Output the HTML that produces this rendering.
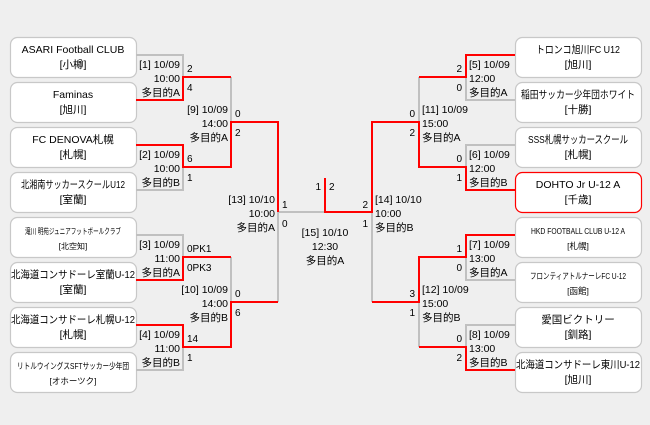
<!DOCTYPE html>
<html><head><meta charset="utf-8"><style>
html,body{margin:0;padding:0;background:#efefef;}
svg{display:block;}
text{font-family:"Liberation Sans","Noto Sans CJK JP",sans-serif;fill:#000;}
</style></head><body>
<svg width="650" height="425" viewBox="0 0 650 425" xmlns="http://www.w3.org/2000/svg">
<rect width="650" height="425" fill="#efefef"/>
<g fill="#fff" stroke="#c8c8c8" stroke-width="1.2">
<rect x="10.5" y="37.5" width="126" height="40" rx="7"/>
<rect x="10.5" y="82.5" width="126" height="40" rx="7"/>
<rect x="10.5" y="127.5" width="126" height="40" rx="7"/>
<rect x="10.5" y="172.5" width="126" height="40" rx="7"/>
<rect x="10.5" y="217.5" width="126" height="40" rx="7"/>
<rect x="10.5" y="262.5" width="126" height="40" rx="7"/>
<rect x="10.5" y="307.5" width="126" height="40" rx="7"/>
<rect x="10.5" y="352.5" width="126" height="40" rx="7"/>
<rect x="515.5" y="37.5" width="126" height="40" rx="7"/>
<rect x="515.5" y="82.5" width="126" height="40" rx="7"/>
<rect x="515.5" y="127.5" width="126" height="40" rx="7"/>
<rect x="515.5" y="172.5" width="126" height="40" rx="7" stroke="#ff0000"/>
<rect x="515.5" y="217.5" width="126" height="40" rx="7"/>
<rect x="515.5" y="262.5" width="126" height="40" rx="7"/>
<rect x="515.5" y="307.5" width="126" height="40" rx="7"/>
<rect x="515.5" y="352.5" width="126" height="40" rx="7"/>
</g>
<g font-size="10.5" text-anchor="middle">
<text x="73" y="53">ASARI Football CLUB</text><text x="73" y="68">[小樽]</text>
<text x="73" y="98">Faminas</text><text x="73" y="113">[旭川]</text>
<text x="73" y="143">FC DENOVA札幌</text><text x="73" y="158">[札幌]</text>
<text x="73" y="188" textLength="104" lengthAdjust="spacingAndGlyphs">北湘南サッカースクールU12</text><text x="73" y="203">[室蘭]</text>
<text x="73" y="234" font-size="8" textLength="96" lengthAdjust="spacingAndGlyphs">滝川 明苑ジュニアフットボールクラブ</text><text x="73" y="249" font-size="8">[北空知]</text>
<text x="73" y="278" textLength="124" lengthAdjust="spacingAndGlyphs">北海道コンサドーレ室蘭U-12</text><text x="73" y="293">[室蘭]</text>
<text x="73" y="323" textLength="124" lengthAdjust="spacingAndGlyphs">北海道コンサドーレ札幌U-12</text><text x="73" y="338">[札幌]</text>
<text x="73" y="369" font-size="8.5" textLength="112" lengthAdjust="spacingAndGlyphs">リトルウイングスSFTサッカー少年団</text><text x="73" y="384" font-size="8.5">[オホーツク]</text>
<text x="578" y="53" textLength="84" lengthAdjust="spacingAndGlyphs">トロンコ旭川FC U12</text><text x="578" y="68">[旭川]</text>
<text x="578" y="98" textLength="114" lengthAdjust="spacingAndGlyphs">稲田サッカー少年団ホワイト</text><text x="578" y="113">[十勝]</text>
<text x="578" y="143" textLength="100" lengthAdjust="spacingAndGlyphs">SSS札幌サッカースクール</text><text x="578" y="158">[札幌]</text>
<text x="578" y="188">DOHTO Jr U-12 A</text><text x="578" y="203">[千歳]</text>
<text x="578" y="234" font-size="8.5" textLength="94" lengthAdjust="spacingAndGlyphs">HKD FOOTBALL CLUB U-12 A</text><text x="578" y="249" font-size="8.5">[札幌]</text>
<text x="578" y="279" font-size="8.5" textLength="96" lengthAdjust="spacingAndGlyphs">フロンティアトルナーレFC U-12</text><text x="578" y="294" font-size="8.5">[函館]</text>
<text x="578" y="323">愛国ビクトリー</text><text x="578" y="338">[釧路]</text>
<text x="578" y="368" textLength="124" lengthAdjust="spacingAndGlyphs">北海道コンサドーレ東川U-12</text><text x="578" y="383">[旭川]</text>
</g>
<g fill="none" stroke="#c0c0c0" stroke-width="2">
<path d="M136 55H183V77"/>
<path d="M136 190H183V167"/>
<path d="M136 235H183V257"/>
<path d="M136 370H183V347"/>
<path d="M231 77V122"/>
<path d="M231 257V302"/>
<path d="M278 302V212H325"/>
<path d="M515 100H466V77"/>
<path d="M515 145H466V167"/>
<path d="M515 280H466V257"/>
<path d="M515 325H466V347"/>
<path d="M419 77V122"/>
<path d="M419 347V302"/>
<path d="M372 302V212"/>
</g>
<g fill="none" stroke="#ff0000" stroke-width="2">
<path d="M136 100H183V77H231"/>
<path d="M136 145H183V167H231V122H278V212"/>
<path d="M136 280H183V257H231"/>
<path d="M136 325H183V347H231V302H278"/>
<path d="M515 55H466V77H419"/>
<path d="M515 190H466V167H419V122H372V212H325V178"/>
<path d="M515 235H466V257H419V302H372"/>
<path d="M515 370H466V347H419"/>
</g>
<g font-size="10.5" text-anchor="end">
<text x="180" y="68">[1] 10/09</text><text x="180" y="82">10:00</text><text x="180" y="96">多目的A</text>
<text x="180" y="158">[2] 10/09</text><text x="180" y="172">10:00</text><text x="180" y="186">多目的B</text>
<text x="180" y="248">[3] 10/09</text><text x="180" y="262">11:00</text><text x="180" y="276">多目的A</text>
<text x="180" y="338">[4] 10/09</text><text x="180" y="352">11:00</text><text x="180" y="366">多目的B</text>
<text x="228" y="113">[9] 10/09</text><text x="228" y="127">14:00</text><text x="228" y="141">多目的A</text>
<text x="228" y="293">[10] 10/09</text><text x="228" y="307">14:00</text><text x="228" y="321">多目的B</text>
<text x="275" y="203">[13] 10/10</text><text x="275" y="217">10:00</text><text x="275" y="231">多目的A</text>
</g>
<g font-size="10.5" text-anchor="start">
<text x="469" y="68">[5] 10/09</text><text x="469" y="82">12:00</text><text x="469" y="96">多目的A</text>
<text x="469" y="158">[6] 10/09</text><text x="469" y="172">12:00</text><text x="469" y="186">多目的B</text>
<text x="469" y="248">[7] 10/09</text><text x="469" y="262">13:00</text><text x="469" y="276">多目的A</text>
<text x="469" y="338">[8] 10/09</text><text x="469" y="352">13:00</text><text x="469" y="366">多目的B</text>
<text x="422" y="113">[11] 10/09</text><text x="422" y="127">15:00</text><text x="422" y="141">多目的A</text>
<text x="422" y="293">[12] 10/09</text><text x="422" y="307">15:00</text><text x="422" y="321">多目的B</text>
<text x="375" y="203">[14] 10/10</text><text x="375" y="217">10:00</text><text x="375" y="231">多目的B</text>
</g>
<g font-size="10.5" text-anchor="middle">
<text x="325" y="236">[15] 10/10</text><text x="325" y="250">12:30</text><text x="325" y="264">多目的A</text>
</g>
<g font-size="10" text-anchor="start">
<text x="187" y="72">2</text><text x="187" y="91">4</text>
<text x="187" y="162">6</text><text x="187" y="181">1</text>
<text x="187" y="252">0PK1</text><text x="187" y="271">0PK3</text>
<text x="187" y="342">14</text><text x="187" y="361">1</text>
<text x="235" y="117">0</text><text x="235" y="136">2</text>
<text x="235" y="297">0</text><text x="235" y="316">6</text>
<text x="282" y="208">1</text><text x="282" y="227">0</text>
<text x="329" y="190">2</text>
</g>
<g font-size="10" text-anchor="end">
<text x="462" y="72">2</text><text x="462" y="91">0</text>
<text x="462" y="162">0</text><text x="462" y="181">1</text>
<text x="462" y="252">1</text><text x="462" y="271">0</text>
<text x="462" y="342">0</text><text x="462" y="361">2</text>
<text x="415" y="117">0</text><text x="415" y="136">2</text>
<text x="415" y="297">3</text><text x="415" y="316">1</text>
<text x="368" y="208">2</text><text x="368" y="227">1</text>
<text x="321" y="190">1</text>
</g>
</svg>
</body></html>
